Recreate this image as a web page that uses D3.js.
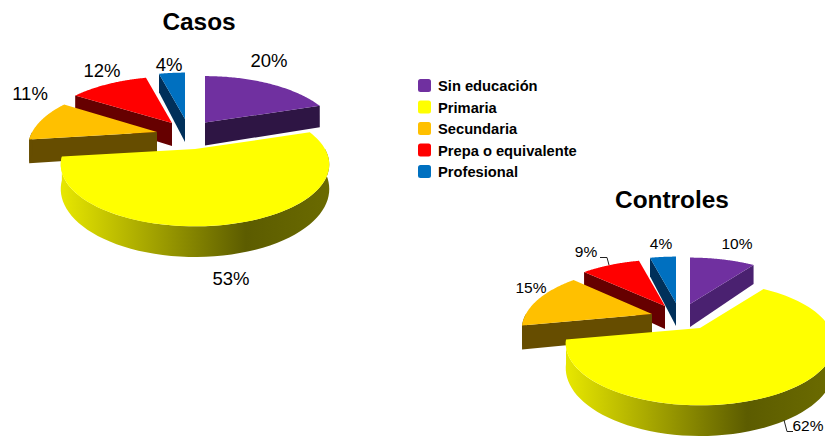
<!DOCTYPE html>
<html><head><meta charset="utf-8">
<script src="https://cdn.jsdelivr.net/npm/d3@7"></script>
<style>html,body{margin:0;padding:0;background:#fff;overflow:hidden}svg{display:block}text{font-family:"Liberation Sans",Arial,sans-serif;fill:#000}</style>
</head><body><svg id="c" width="825" height="436"></svg>
<script>
const categories = ["Sin educación","Primaria","Secundaria","Prepa o equivalente","Profesional"];
const casosValues = [20,53,11,12,4];
const controlesValues = [10,62,15,9,4];
const topColors = ["#7030a0","#ffff00","#ffc000","#ff0000","#0070c0"];
const wallColors = ["#2e1544","#666600","#664d00","#660000","#00305a"];

const layout = {
  casos: {title:"Casos", tx:199, ty:30, size:18.5, purpleWall:"#2e1544",
    apex:[[205,122.5],[195,149],[157,132],[172,123],[185,119]], scale:[1,1,0.96,1,1],
    labels:[[269,67],[231,285],[30,100],[102,77],[169,71]], grad:[63,246,328], leaders:[]},
  controles: {title:"Controles", tx:672, ty:208, size:15.5, purpleWall:"#4a2170",
    apex:[[690,304],[700,328],[652,314],[665,306],[676,303]], scale:[1,1,0.97,1,1],
    labels:[[737,249],[808,431],[531,293],[586,257],[661,249]], grad:[568,747,825],
    leaders:[[[600,257.5],[607,257.5],[609,265]],[[784,420],[787,431.5],[793,431.5]]]}
};
const RX=130, RY=58, K=0.25, DEPTH=23;
const svg=d3.select("#c"), defs=svg.append("defs");
const topColor=d3.scaleOrdinal(categories,topColors);
const wallColor=d3.scaleOrdinal(categories,wallColors);
const project=(cx,cy,t,r)=>{const s=1/(1+K*Math.cos(t));return [cx+r*RX*Math.sin(t)*s,cy-RY*Math.cos(t)*s,s];};
const line=d3.line();
const pie=d3.pie().sort(null);
const paintOrder=[4,0,3,2,1];

function drawChart(values,cfg,id){
  const g=svg.append("g");
  const grad=defs.append("linearGradient").attr("id",id).attr("gradientUnits","userSpaceOnUse")
    .attr("x1",cfg.grad[0]).attr("x2",cfg.grad[2]).attr("y1",0).attr("y2",0);
  const mid=(cfg.grad[1]-cfg.grad[0])/(cfg.grad[2]-cfg.grad[0]);
  grad.append("stop").attr("offset",0).attr("stop-color","#e6e600");
  grad.append("stop").attr("offset",mid).attr("stop-color","#5c5c00");
  grad.append("stop").attr("offset",1).attr("stop-color","#6a6a00");
  const arcs=pie(values);
  paintOrder.forEach(i=>{
    const a=arcs[i],[cx,cy]=cfg.apex[i],cat=categories[i],r=cfg.scale[i];
    const wall=i===0?cfg.purpleWall:wallColor(cat);
    const wallPath=t=>{const p=project(cx,cy,t,r);
      return line([[cx,cy],p.slice(0,2),[p[0],p[1]+DEPTH*p[2]],[cx,cy+DEPTH]])+"Z";};
    if(Math.sin(a.startAngle)<-1e-6) g.append("path").attr("d",wallPath(a.startAngle)).attr("fill",wall);
    if(Math.sin(a.endAngle)>1e-6) g.append("path").attr("d",wallPath(a.endAngle)).attr("fill",wall);
    const r0=Math.max(a.startAngle,Math.PI/2), r1=Math.min(a.endAngle,Math.PI*1.5);
    if(r1>r0){
      const ts=d3.range(0,61).map(n=>r0+(r1-r0)*n/60);
      const up=ts.map(t=>project(cx,cy,t,r));
      const pts=up.map(p=>[p[0],p[1]]).concat(up.slice().reverse().map(p=>[p[0],p[1]+DEPTH*p[2]]));
      g.append("path").attr("d",line(pts)+"Z").attr("fill",i===1?`url(#${id})`:wall);
    }
    const ts=d3.range(0,81).map(n=>a.startAngle+(a.endAngle-a.startAngle)*n/80);
    const pts=[[cx,cy]].concat(ts.map(t=>project(cx,cy,t,r).slice(0,2)));
    g.append("path").attr("d",line(pts)+"Z").attr("fill",topColor(cat));
  });
  cfg.leaders.forEach(l=>g.append("path").attr("d",line(l)).attr("fill","none").attr("stroke","#222").attr("stroke-width",1));
  values.forEach((v,i)=>g.append("text").attr("x",cfg.labels[i][0]).attr("y",cfg.labels[i][1])
    .attr("text-anchor","middle").attr("font-size",cfg.size).text(v+"%"));
  g.append("text").attr("x",cfg.tx).attr("y",cfg.ty).attr("text-anchor","middle")
    .attr("font-size",24.4).attr("font-weight","bold").text(cfg.title);
}
drawChart(casosValues,layout.casos,"rimA");
drawChart(controlesValues,layout.controles,"rimB");

const legendY=d3.scalePoint().domain(categories).range([86,172]);
const lg=svg.append("g");
categories.forEach(c=>{
  const y=legendY(c);
  lg.append("rect").attr("x",418).attr("y",y-7).attr("width",13).attr("height",13).attr("rx",2.5).attr("fill",topColor(c));
  lg.append("text").attr("x",438).attr("y",y+5).attr("font-size",14.7).attr("font-weight","bold").text(c);
});
</script></body></html>
